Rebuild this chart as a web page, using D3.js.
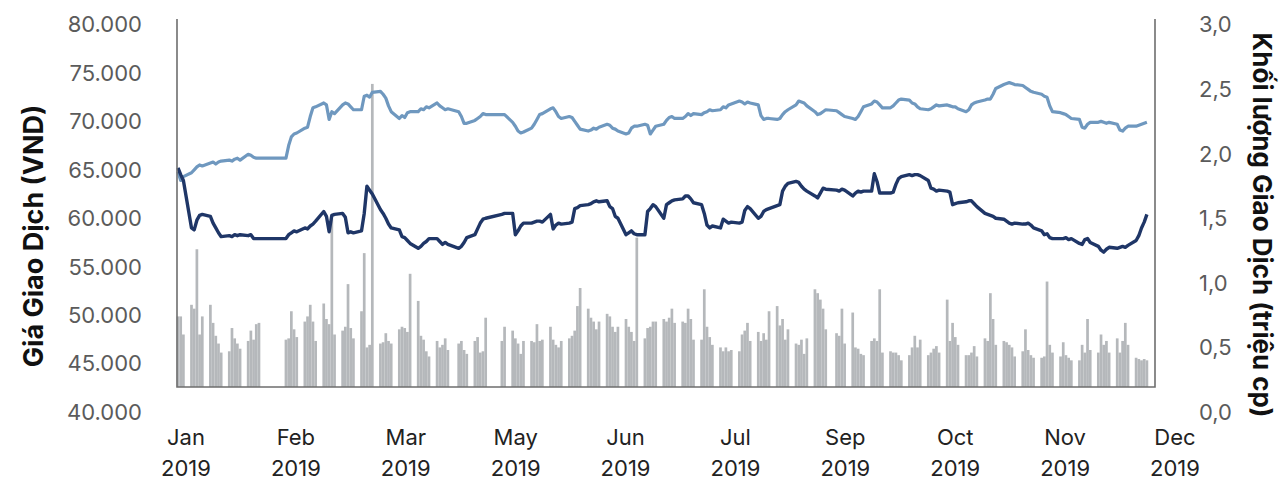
<!DOCTYPE html>
<html>
<head>
<meta charset="utf-8">
<script src="https://cdn.jsdelivr.net/npm/d3@7"></script>
<style>
  body { margin: 0; background: #fff; }
  svg text { font-family: Inter, "Noto Sans", sans-serif; }
</style>
</head>
<body>
<svg id="chart" width="1280" height="481"></svg>
<script>
// week rows start on this Monday (row 0 = 31/12/2018), columns Mon..Fri, null = market closed
var firstMonday = new Date(2018, 11, 31);

var lightPrice = [
  [null, null, 64800, 63900, 64300],
  [64700, 65000, 65300, 65500, 65400],
  [65700, 65800, 65600, 65800, 65900],
  [66000, 65900, 66100, 66200, 66000],
  [66600, 66500, 66300, 66200, 66200],
  [null, null, null, null, null],
  [66200, 67500, 68400, 68700, 68800],
  [69300, 69400, 70500, 71400, 71500],
  [71900, 71700, 70200, 71000, 70800],
  [71700, 71900, 71800, 71500, 71200],
  [71200, 72600, 72700, 72500, 73000],
  [73100, 72800, 72400, 71600, 71000],
  [70300, 70600, 70400, 70900, 71000],
  [71000, 71300, 71200, 71500, 71400],
  [71900, 71600, 71400, 71200, 71300],
  [null, 71000, 70500, 69800, 69800],
  [70100, 70300, 70500, 70800, 70700],
  [null, null, null, 70700, 70700],
  [69900, 69500, 69000, 68800, 68900],
  [69300, 69700, 70200, 70700, 70800],
  [71300, 71400, 71000, 70500, 70300],
  [70500, 70400, 70000, 69600, 69200],
  [69000, 69100, 69300, 69200, 69400],
  [69700, 69600, 69300, 69200, 69000],
  [68700, 68800, 69300, 69500, 69500],
  [69700, 69600, 68700, 69100, 69500],
  [69700, 70100, 70400, 70500, 70300],
  [70300, 70500, 70800, 70600, 70800],
  [70700, 70900, 71000, 71200, 71100],
  [71200, 71500, 71400, 71700, 71800],
  [72100, 72000, 71800, 72000, 71900],
  [71700, 70600, 70200, 70300, 70300],
  [70200, 70300, 70700, 71000, 71200],
  [71700, 72100, 72000, 71900, 71600],
  [71000, 70700, 70800, 71000, 71200],
  [null, 71100, 70900, 70700, 70500],
  [70300, 70200, 70500, 71000, 71500],
  [71800, 72100, 72000, 71700, 71400],
  [71400, 71600, 71900, 72200, 72300],
  [72200, 71900, 71800, 71500, 71300],
  [71200, 71300, 71500, 71700, 71600],
  [71700, 71600, 71500, 71500, 71300],
  [71000, 71200, 71700, 71900, 72000],
  [72200, 72300, 72300, 72800, 73400],
  [73800, 73900, 74000, 73900, 73800],
  [73700, 73500, 73300, 73100, 73000],
  [72800, 72600, 72500, 71600, 71000],
  [70900, 70800, 70700, 70500, 70300],
  [70200, 69400, 69300, 69700, 69900],
  [69900, 70000, 69900, 69800, 69900],
  [69700, 69100, 69000, 69300, 69500],
  [69500, 69600, 69700, 69800, 69900]
];

var darkPrice = [
  [null, null, 65200, 64500, 63900],
  [59000, 58800, 59800, 60300, 60400],
  [60200, 59500, 59000, 58500, 58100],
  [58200, 58100, 58300, 58200, 58300],
  [58200, 58300, 57900, 57900, 57900],
  [null, null, null, null, null],
  [57900, 58300, 58500, 58700, 58600],
  [59000, 58900, 59200, 59400, 59700],
  [60700, 60200, 58600, 60300, 60400],
  [60500, 60100, 58500, 58600, 58500],
  [58700, 60500, 63300, 62900, 62500],
  [60900, 60500, 60000, 59400, 59000],
  [58800, 58100, 58000, 57700, 57400],
  [56900, 57100, 57400, 57600, 57900],
  [57900, 57600, 57300, 57500, 57300],
  [null, 56900, 57100, 57500, 58000],
  [58300, 58900, 59500, 59900, 60000],
  [null, null, null, 60400, 60500],
  [60500, 58300, 58700, 59200, 59500],
  [59500, 59600, 59700, 59700, 59600],
  [60400, 58900, 59300, 59500, 59400],
  [59500, 59600, 61000, 61100, 61300],
  [61400, 61500, 61700, 61800, 61700],
  [61800, 61200, 61000, 60200, 60000],
  [58300, 58500, 58700, 58400, 58300],
  [58300, 60700, 61000, 61400, 61200],
  [60000, 61400, 61600, 61800, 61900],
  [62000, 62300, 62300, 62000, 61600],
  [61400, 60500, 59300, 59000, 59200],
  [59000, 59900, 59700, 59500, 59600],
  [59500, 59600, 60800, 61200, 61000],
  [60000, 60200, 60700, 60900, 61000],
  [61300, 61400, 62800, 63300, 63600],
  [63800, 63700, 63300, 63000, 62800],
  [62300, 62100, 62600, 63100, 63000],
  [null, 62900, 62800, 63000, 62900],
  [62300, 62600, 62800, 62700, 62800],
  [62800, 64600, 63800, 62600, 62600],
  [62600, 62700, 63500, 64100, 64300],
  [64500, 64400, 64500, 64500, 64400],
  [63900, 63100, 63000, 62800, 62900],
  [62800, 62700, 61400, 61500, 61600],
  [61700, 61800, 61800, 61500, 61200],
  [60500, 60400, 60300, 60200, 60000],
  [59900, 59700, 59500, 59400, 59500],
  [59400, 59400, 59500, 59300, 59000],
  [58700, 58300, 58400, 58000, 57900],
  [57900, 57900, 58000, 57800, 57900],
  [57400, 57300, 57800, 57900, 57500],
  [57100, 56700, 56500, 56800, 57000],
  [56900, 57000, 57100, 57000, 57200],
  [57700, 58200, 59000, 59600, 60400]
];

// triệu cp
var volume = [
  [null, null, 0.74, 0.74, 0.60],
  [0.83, 0.80, 1.26, 0.60, 0.74],
  [0.83, 0.69, 0.59, 0.53, 0.46],
  [0.47, 0.65, 0.57, 0.53, 0.49],
  [0.55, 0.63, 0.56, 0.68, 0.69],
  [null, null, null, null, null],
  [0.56, 0.57, 0.78, 0.64, 0.58],
  [0.70, 0.74, 0.83, 0.70, 0.55],
  [0.84, 0.72, 0.68, 1.50, 0.60],
  [0.63, 0.66, 0.99, 0.65, 0.57],
  [0.78, 1.23, 0.50, 0.52, 2.54],
  [0.53, 0.54, 0.61, 0.55, 0.53],
  [0.64, 0.66, 0.65, 0.62, 1.07],
  [0.86, 0.59, 0.56, 0.47, 0.43],
  [0.55, 0.50, 0.52, 0.57, 0.48],
  [null, 0.53, 0.55, 0.48, 0.45],
  [0.55, 0.58, 0.46, 0.47, 0.73],
  [null, null, null, 0.55, 0.66],
  [0.63, 0.57, 0.53, 0.45, 0.55],
  [0.55, 0.54, 0.68, 0.55, 0.56],
  [0.66, 0.56, 0.52, 0.50, 0.55],
  [0.57, 0.59, 0.63, 0.82, 0.96],
  [0.80, 0.73, 0.70, 0.64, 0.70],
  [0.76, 0.74, 0.66, 0.62, 0.66],
  [0.72, 0.66, 0.62, 0.55, 1.35],
  [0.57, 0.65, 0.66, 0.70, 0.70],
  [0.72, 0.70, 0.73, 0.80, 0.69],
  [0.70, 0.69, 0.80, 0.72, 0.56],
  [0.56, 0.95, 0.66, 0.58, 0.52],
  [0.50, 0.47, 0.50, 0.47, 0.48],
  [0.47, 0.60, 0.63, 0.69, 0.55],
  [0.62, 0.55, 0.61, 0.56, 0.78],
  [0.82, 0.67, 0.72, 0.56, 0.64],
  [0.53, 0.52, 0.56, 0.45, 0.57],
  [0.95, 0.92, 0.87, 0.80, 0.64],
  [null, 0.61, 0.59, 0.80, 0.53],
  [0.77, 0.50, 0.49, 0.45, 0.44],
  [0.55, 0.57, 0.55, 0.95, 0.46],
  [0.47, 0.46, 0.46, 0.44, 0.40],
  [0.44, 0.50, 0.59, 0.50, 0.56],
  [0.44, 0.46, 0.49, 0.51, 0.46],
  [0.87, 0.55, 0.69, 0.58, 0.52],
  [0.44, 0.44, 0.46, 0.51, 0.43],
  [0.57, 0.55, 0.92, 0.72, 0.52],
  [0.55, 0.54, 0.52, 0.50, 0.43],
  [0.47, 0.64, 0.48, 0.44, 0.42],
  [0.42, 0.43, 1.01, 0.52, 0.46],
  [0.43, 0.54, 0.44, 0.42, 0.40],
  [0.40, 0.52, 0.46, 0.72, 0.48],
  [0.46, 0.60, 0.52, 0.55, 0.46],
  [0.57, 0.46, 0.55, 0.69, 0.52],
  [0.42, 0.41, 0.40, 0.41, 0.40]
];

var monthLabels = ["Jan", "Feb", "Mar", "May", "Jun", "Jul", "Sep", "Oct", "Nov", "Dec"];
var yearLabel = "2019";
var priceTicks = [40000, 45000, 50000, 55000, 60000, 65000, 70000, 75000, 80000];
var volumeTicks = [0, 0.5, 1.0, 1.5, 2.0, 2.5, 3.0];

var svg = d3.select("#chart");

// plot box
var boxL = 177, boxR = 1155, boxT = 19, boxB = 387;

var vn = d3.formatLocale({ decimal: ",", thousands: ".", grouping: [3], currency: ["", " đ"] });

// flatten week rows into daily records
function toDays(rows) {
  var out = [];
  rows.forEach(function(row, k) {
    row.forEach(function(v, d) {
      if (v != null) out.push({ date: d3.timeDay.offset(firstMonday, 7 * k + d), value: v });
    });
  });
  return out;
}

var light = toDays(lightPrice);
var dark = toDays(darkPrice);
var vol = toDays(volume);

var x = d3.scaleTime()
    .domain([new Date(2019, 0, 2), new Date(2019, 11, 30)])
    .range([boxL + 1, boxR]);

var yPrice = d3.scaleLinear().domain([40000, 80000]).range([412, 24.5]);
var yVol = d3.scaleLinear().domain([0, 3]).range([412, 24.5]);

var dayW = x(new Date(2019, 0, 3)) - x(new Date(2019, 0, 2));

// volume bars
svg.append("g")
  .selectAll("rect")
  .data(vol)
  .enter().append("rect")
    .attr("x", function(d) { return x(d.date) - dayW / 2; })
    .attr("width", dayW)
    .attr("y", function(d) { return yVol(d.value); })
    .attr("height", function(d) { return Math.max(0, boxB - yVol(d.value)); })
    .attr("fill", "#b5b8bb");

var line = d3.line()
    .x(function(d) { return x(d.date); })
    .y(function(d) { return yPrice(d.value); });

svg.append("path")
    .datum(light)
    .attr("d", line)
    .attr("fill", "none")
    .attr("stroke", "#6f98bf")
    .attr("stroke-width", 3.2)
    .attr("stroke-linejoin", "round");

svg.append("path")
    .datum(dark)
    .attr("d", line)
    .attr("fill", "none")
    .attr("stroke", "#1f3667")
    .attr("stroke-width", 3.4)
    .attr("stroke-linejoin", "round");

// frame: left, bottom, right
svg.append("path")
    .attr("d", "M" + boxL + "," + boxT + "V" + boxB + "H" + boxR + "V" + boxT)
    .attr("fill", "none")
    .attr("stroke", "#6e6e6e")
    .attr("stroke-width", 1.6);

// left tick labels
svg.append("g")
  .selectAll("text")
  .data(priceTicks)
  .enter().append("text")
    .attr("x", 142)
    .attr("y", function(d) { return yPrice(d); })
    .attr("dy", "0.36em")
    .attr("text-anchor", "end")
    .attr("font-size", 22)
    .attr("fill", "#5b5b5b")
    .text(vn.format(",.0f"));

// right tick labels
svg.append("g")
  .selectAll("text")
  .data(volumeTicks)
  .enter().append("text")
    .attr("x", 1199)
    .attr("y", function(d) { return yVol(d); })
    .attr("dy", "0.36em")
    .attr("font-size", 22)
    .attr("fill", "#5b5b5b")
    .text(vn.format(".1f"));

// month labels
var xl = d3.scalePoint().domain(monthLabels).range([186, 1175]);

var lab = svg.append("g")
  .selectAll("text")
  .data(monthLabels)
  .enter().append("text")
    .attr("text-anchor", "middle")
    .attr("font-size", 22)
    .attr("fill", "#222");
lab.append("tspan")
    .attr("x", function(d) { return xl(d); })
    .attr("y", 445)
    .text(function(d) { return d; });
lab.append("tspan")
    .attr("x", function(d) { return xl(d); })
    .attr("y", 476)
    .text(yearLabel);

// axis titles
svg.append("text")
    .attr("transform", "translate(43,236) rotate(-90)")
    .attr("text-anchor", "middle")
    .attr("font-size", 27)
    .attr("font-weight", "bold")
    .attr("fill", "#111")
    .text("Giá Giao Dịch (VND)");

svg.append("text")
    .attr("transform", "translate(1253,225) rotate(90)")
    .attr("text-anchor", "middle")
    .attr("font-size", 26)
    .attr("font-weight", "bold")
    .attr("fill", "#111")
    .text("Khối lượng Giao Dịch (triệu cp)");
</script>
</body>
</html>
